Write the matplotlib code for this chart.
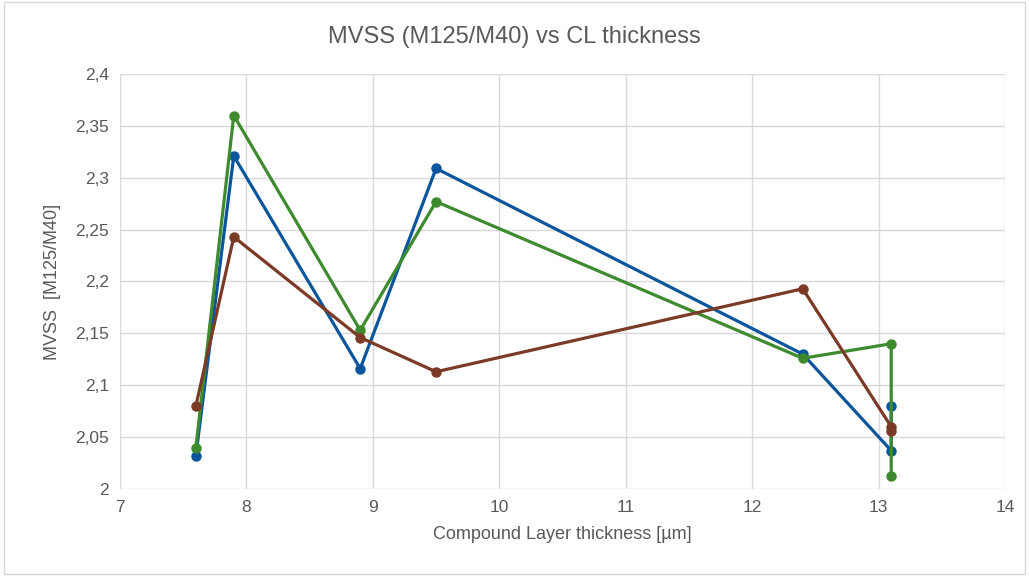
import matplotlib
matplotlib.use("Agg")
import matplotlib.pyplot as plt
from matplotlib.ticker import FuncFormatter, MultipleLocator

plt.rcParams['font.family'] = ['Liberation Sans', 'DejaVu Sans']

x_vals = [7.6, 7.9, 8.9, 9.5, 12.4, 13.1, 13.1]
blue_y = [2.032, 2.321, 2.116, 2.309, 2.130, 2.037, 2.080]
green_y = [2.040, 2.360, 2.153, 2.277, 2.126, 2.140, 2.013]
brown_y = [2.080, 2.243, 2.146, 2.113, 2.193, 2.060, 2.056]

title = "MVSS (M125/M40) vs CL thickness"
xlabel = "Compound Layer thickness [µm]"
ylabel = "MVSS  [M125/M40]"

fig = plt.figure(figsize=(10.29, 5.76), dpi=100)
ax = fig.add_axes([120/1029, 1-489/576, (1005-120)/1029, (489-74)/576])

series = [(blue_y, '#0B559C'), (green_y, '#3E8A2F'), (brown_y, '#7A3A26')]
for ys, c in series:
    ax.plot(x_vals, ys, color=c, lw=2.3, marker='o', ms=6.5, zorder=3)

ax.set_xlim(7, 14)
ax.set_ylim(2, 2.4)
ax.xaxis.set_major_locator(MultipleLocator(1))
ax.yaxis.set_major_locator(MultipleLocator(0.05))
fmt = lambda v, p: ('%g' % round(v, 3)).replace('.', ',')
ax.yaxis.set_major_formatter(FuncFormatter(fmt))
ax.xaxis.set_major_formatter(FuncFormatter(fmt))
ax.grid(True, color='#d9d9d9', lw=1)
ax.set_axisbelow(True)
for s in ax.spines.values():
    s.set_visible(False)
ax.tick_params(length=0, colors='#595959', labelsize=12.5, pad=8)
ax.set_xlabel(xlabel, color='#595959', fontsize=13, labelpad=8)
ax.set_ylabel(ylabel, color='#595959', fontsize=13, labelpad=10)
fig.text(0.5, 1-37/576, title, ha='center', va='center', fontsize=17, color='#595959')

border = plt.Rectangle((0.004, 0.004), 0.992, 0.992, transform=fig.transFigure,
                       fill=False, edgecolor='#d9d9d9', lw=1)
fig.patches.append(border)

fig.savefig('out.png', dpi=100)
